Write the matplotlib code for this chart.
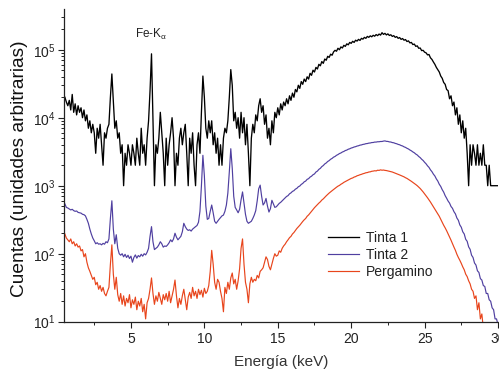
import numpy as np
import matplotlib
matplotlib.use("Agg")
import matplotlib.pyplot as plt
from matplotlib.ticker import MultipleLocator, LogLocator

plt.rcParams['font.family'] = ['Liberation Sans', 'DejaVu Sans']
plt.rcParams['mathtext.default'] = 'regular'

# Energy channels (keV), 0.1 keV steps from 0.5 to 30.0
energy = np.round(np.arange(0.5, 30.05, 0.1), 2)

tinta1 = [
    20000, 17000, 15000, 18000, 13000, 22000, 12000, 16000, 11000, 15000,
    12000, 14000, 10000, 13000, 9000, 11000, 7000, 9000, 6000, 8000,
    6000, 3000, 7000, 5000, 8000, 4000, 2000, 6000, 5000, 7000,
    8000, 20000, 44000, 18000, 7000, 9000, 5000, 6000, 3000, 4000,
    1000, 3000, 2000, 4000, 3000, 2000, 4000, 3000, 2000, 5000,
    3000, 2000, 7000, 3000, 4000, 2000, 5000, 9000, 25000, 87000,
    9000, 1000, 4000, 3000, 5000, 12000, 6000, 3000, 1000, 5000,
    2000, 4000, 6000, 10000, 5000, 1000, 3000, 2000, 5000, 7000,
    4000, 6000, 8000, 3000, 1000, 5000, 3000, 6000, 2000, 1000,
    4000, 6000, 3000, 12000, 41000, 20000, 7000, 5000, 9000, 6000,
    9000, 4000, 6000, 3000, 5000, 2000, 4000, 2000, 5000, 7000,
    6000, 9000, 20000, 51000, 30000, 9000, 12000, 7000, 10000, 5000,
    12000, 6000, 10000, 4000, 8000, 3000, 1000, 5000, 8000, 6000,
    11000, 9000, 15000, 19000, 12000, 15000, 8000, 11000, 5000, 7000,
    4000, 9000, 6000, 12000, 10000, 14000, 11000, 16000, 13000, 17000,
    15000, 19000, 16000, 21000, 18000, 23000, 20000, 26000, 24000, 30000,
    27000, 34000, 31000, 37000, 34000, 40000, 37000, 45000, 42000, 50000,
    47000, 55000, 52000, 61000, 58000, 67000, 63000, 73000, 70000, 80000,
    77000, 86000, 83000, 93000, 98000, 95000, 105000, 100000, 110000, 106000,
    116000, 112000, 122000, 118000, 128000, 124000, 133000, 128000, 138000, 134000,
    142000, 137000, 147000, 143000, 152000, 147000, 157000, 152000, 160000, 155000,
    163000, 158000, 167000, 161000, 170000, 164000, 178000, 168000, 174000, 165000,
    171000, 162000, 166000, 157000, 161000, 152000, 156000, 147000, 151000, 142000,
    146000, 138000, 141000, 132000, 135000, 126000, 128000, 119000, 121000, 112000,
    114000, 105000, 106000, 97000, 98000, 92000, 90000, 84000, 85000, 76000,
    72000, 66000, 61000, 55000, 51000, 47000, 41000, 38000, 33000, 31000,
    26000, 25000, 19000, 21000, 15000, 17000, 11000, 14000, 8000, 11000,
    6000, 9000, 5000, 7000, 3000, 1000, 4000, 2000, 4000, 3000,
    2000, 4000, 2000, 3000, 2000, 4000, 2000, 2000, 1000, 2000,
    1000, 1000, 1000, 1000, 1000, 1000,
]

tinta2 = [
    540, 480, 470, 455, 440, 450, 430, 420, 425, 405,
    400, 395, 380, 375, 360, 320, 280, 230, 195, 170,
    155, 140, 145, 138, 140, 135, 142, 138, 150, 145,
    165, 330, 600, 230, 140, 190, 120, 100, 95, 100,
    90, 98, 88, 95, 85, 92, 75, 88, 96, 86,
    94, 90, 98, 92, 100, 96, 105, 120, 180, 250,
    150, 115, 120, 125, 135, 150, 140, 125, 130, 128,
    135, 145, 160, 150, 165, 200, 175, 160, 170, 180,
    210, 280, 250, 230, 220, 225, 215, 230, 240, 250,
    260, 290, 420, 1000, 2800, 1400, 500, 320, 330, 420,
    520, 400, 300, 280, 300, 320, 340, 360, 370, 420,
    520, 780, 1600, 3500, 1800, 700, 480, 440, 400, 450,
    620, 810, 550, 380, 300, 280, 290, 300, 330, 370,
    430, 600, 900, 1020, 700, 520, 560, 650, 500, 410,
    460, 610, 540, 480, 490, 520, 550, 570, 600, 630,
    660, 695, 715, 760, 785, 825, 845, 890, 915, 965,
    990, 1045, 1080, 1140, 1170, 1240, 1270, 1340, 1380, 1450,
    1490, 1590, 1640, 1740, 1800, 1910, 1980, 2090, 2160, 2270,
    2340, 2450, 2520, 2630, 2690, 2800, 2870, 2970, 3030, 3130,
    3190, 3290, 3340, 3440, 3490, 3580, 3630, 3710, 3750, 3830,
    3870, 3950, 3980, 4050, 4080, 4150, 4170, 4230, 4250, 4310,
    4320, 4380, 4380, 4430, 4430, 4470, 4470, 4530, 4560, 4490,
    4480, 4410, 4390, 4310, 4280, 4190, 4140, 4050, 4000, 3900,
    3840, 3730, 3660, 3550, 3470, 3350, 3260, 3140, 3050, 2920,
    2830, 2690, 2590, 2450, 2350, 2210, 2100, 1960, 1860, 1710,
    1610, 1480, 1390, 1260, 1170, 1050, 975, 875, 805, 715,
    655, 595, 555, 495, 465, 415, 385, 335, 310, 265,
    245, 210, 195, 163, 152, 126, 116, 95, 88, 73,
    68, 56, 53, 43, 41, 34, 33, 26, 26, 21,
    20, 16, 15, 11, 11, 9,
]

pergamino = [
    195, 170, 160, 150, 165, 140, 150, 130, 140, 125,
    130, 110, 115, 90, 100, 75, 62, 55, 48, 42,
    45, 35, 38, 30, 34, 28, 32, 26, 24, 28,
    32, 70, 135, 50, 30, 45, 25, 20, 26, 18,
    24, 17, 22, 19, 25, 16, 21, 18, 23, 15,
    20, 17, 22, 14, 18, 11, 19, 22, 30, 44,
    26, 18, 24, 20, 27, 22, 18, 25, 21, 26,
    20, 28, 19, 24, 30, 41, 24, 16, 22, 18,
    24, 30, 21, 15, 23, 27, 22, 32, 24, 28,
    22, 30, 25, 29, 23, 31, 26, 28, 34, 55,
    112, 70, 38, 30, 42, 38, 28, 22, 14, 32,
    26, 38, 30, 44, 52, 36, 42, 30, 40, 60,
    120, 165, 70, 38, 30, 19, 36, 45, 38, 42,
    40, 48, 44, 55, 58, 62, 75, 90, 82, 65,
    58, 70, 85, 100, 92, 95, 110, 105, 120, 130,
    138, 150, 160, 172, 180, 195, 205, 220, 235, 248,
    262, 280, 298, 315, 330, 355, 372, 395, 420, 448,
    475, 500, 525, 555, 580, 615, 640, 675, 710, 745,
    780, 810, 845, 880, 915, 950, 985, 1010, 1050, 1080,
    1120, 1150, 1180, 1210, 1250, 1280, 1300, 1340, 1360, 1400,
    1420, 1450, 1470, 1500, 1520, 1550, 1560, 1590, 1600, 1630,
    1640, 1660, 1650, 1690, 1680, 1710, 1690, 1700, 1680, 1670,
    1650, 1630, 1610, 1590, 1560, 1530, 1500, 1470, 1440, 1410,
    1380, 1350, 1310, 1280, 1240, 1200, 1160, 1120, 1080, 1040,
    1000, 955, 910, 860, 810, 760, 715, 665, 620, 575,
    530, 490, 450, 415, 385, 355, 320, 290, 262, 240,
    218, 195, 176, 158, 140, 125, 112, 98, 88, 80,
    72, 64, 58, 50, 46, 40, 36, 30, 28, 22,
    24, 15, 19, 11, 13, 8, 7, 6, 5, 5,
    5, 4, 4, 4, 3, 3,
]

series_labels = ["Tinta 1", "Tinta 2", "Pergamino"]
series_colors = ["#000000", "#4f3fa0", "#e8451c"]
series_widths = [0.95, 0.85, 0.85]
x_major = [5, 10, 15, 20, 25, 30]

W, H = 499, 372
fig = plt.figure(figsize=(W / 100, H / 100), dpi=100)
ax = fig.add_axes([64 / W, (H - 321.7) / H, (498 - 64) / W, (321.7 - 9.3) / H])

for vals, lab, col, lw in zip([tinta1, tinta2, pergamino], series_labels, series_colors, series_widths):
    ax.plot(energy, vals, color=col, lw=lw, label=lab)

ax.set_yscale('log')
ax.set_xlim(0.44, 30)
ax.set_ylim(10, 3.93e5)
ax.set_xticks(x_major)
ax.xaxis.set_minor_locator(MultipleLocator(2.5))
ax.yaxis.set_minor_locator(LogLocator(base=10, subs=np.arange(2, 10)))

for s in ['top', 'right']:
    ax.spines[s].set_visible(False)
for s in ['left', 'bottom']:
    ax.spines[s].set_linewidth(0.9)
    ax.spines[s].set_color('#222222')

ax.tick_params(axis='both', which='major', direction='out', length=4.5, width=0.8,
               labelsize=10, colors='#222222', labelcolor='#222222')
ax.tick_params(axis='both', which='minor', direction='out', length=2.5, width=0.7,
               colors='#222222')
ax.tick_params(axis='x', which='major', pad=3)
ax.tick_params(axis='y', which='major', pad=1.5)

ax.set_xlabel("Energía (keV)", fontsize=11, color='#333333')
ax.xaxis.set_label_coords(0.5, -0.108)
ax.set_ylabel("Cuentas (unidades arbitrarias)", fontsize=13.8, color='#111111')
ax.yaxis.set_label_coords(-0.082, 0.49)

ax.text(6.35, 1.7e5, r"Fe-K$_{\alpha}$", fontsize=8.5, ha='center', va='center', color='#222222')

leg = ax.legend(loc='upper left', bbox_to_anchor=(328 / W, (H - 231) / H),
                bbox_transform=fig.transFigure, frameon=False, fontsize=10,
                handlelength=2.25, handletextpad=0.45, labelspacing=0.2,
                borderpad=0, borderaxespad=0)
for t in leg.get_texts():
    t.set_color('#222222')

fig.savefig("out.png", dpi=100)
